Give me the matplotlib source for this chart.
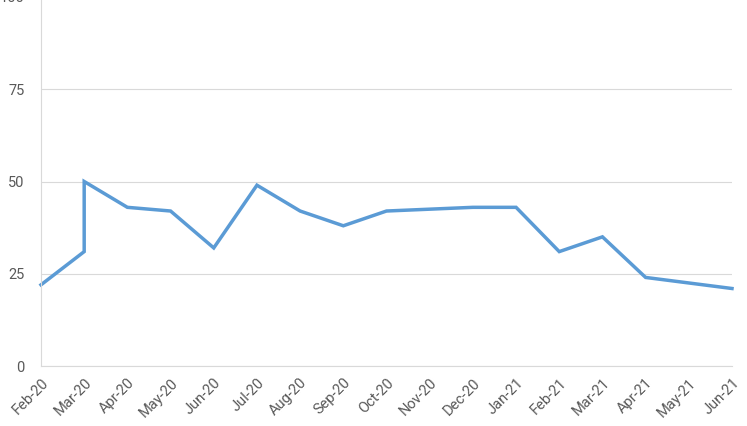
import numpy as np
import matplotlib
matplotlib.use("Agg")
import matplotlib.pyplot as plt

months = ["Feb-20", "Mar-20", "Apr-20", "May-20", "Jun-20", "Jul-20", "Aug-20",
          "Sep-20", "Oct-20", "Nov-20", "Dec-20", "Jan-21", "Feb-21", "Mar-21",
          "Apr-21", "May-21", "Jun-21"]
# month index of each observation (Mar-20 has two readings, Nov-20 / May-21 none)
obs_month = ["Feb-20", "Mar-20", "Mar-20", "Apr-20", "May-20", "Jun-20", "Jul-20",
             "Aug-20", "Sep-20", "Oct-20", "Dec-20", "Jan-21", "Feb-21", "Mar-21",
             "Apr-21", "Jun-21"]
values = [22, 31, 50, 43, 42, 32, 49, 42, 38, 42, 43, 43, 31, 35, 24, 21]

plt.rcParams['font.family'] = ['Roboto', 'DejaVu Sans']

fig = plt.figure(figsize=(7.47, 4.26), dpi=100)
ax = fig.add_axes([41/747, 60/426, (732-41)/747, 1 + 3/426 - 60/426])

x = [months.index(m) for m in obs_month]
ax.plot(x, values, color='#5B9BD5', lw=2.5, solid_joinstyle='miter', clip_on=False)

ax.set_xlim(0, len(months) - 1)
ax.set_ylim(0, 100)
ax.set_yticks([0, 25, 50, 75, 100])
ax.set_xticks(range(len(months)))
ax.set_xticklabels(months, rotation=45, ha='right', rotation_mode='anchor')
ax.tick_params(length=0, labelsize=10.5, colors='#595959')
ax.tick_params(axis='y', pad=12)
ax.tick_params(axis='x', pad=7)
ax.grid(axis='y', color='#d9d9d9', lw=0.8)
ax.set_axisbelow(True)
for s in ['top', 'right']:
    ax.spines[s].set_visible(False)
for s in ['left', 'bottom']:
    ax.spines[s].set_color('#d9d9d9')
    ax.spines[s].set_linewidth(0.8)

fig.savefig('out.png', dpi=100)
